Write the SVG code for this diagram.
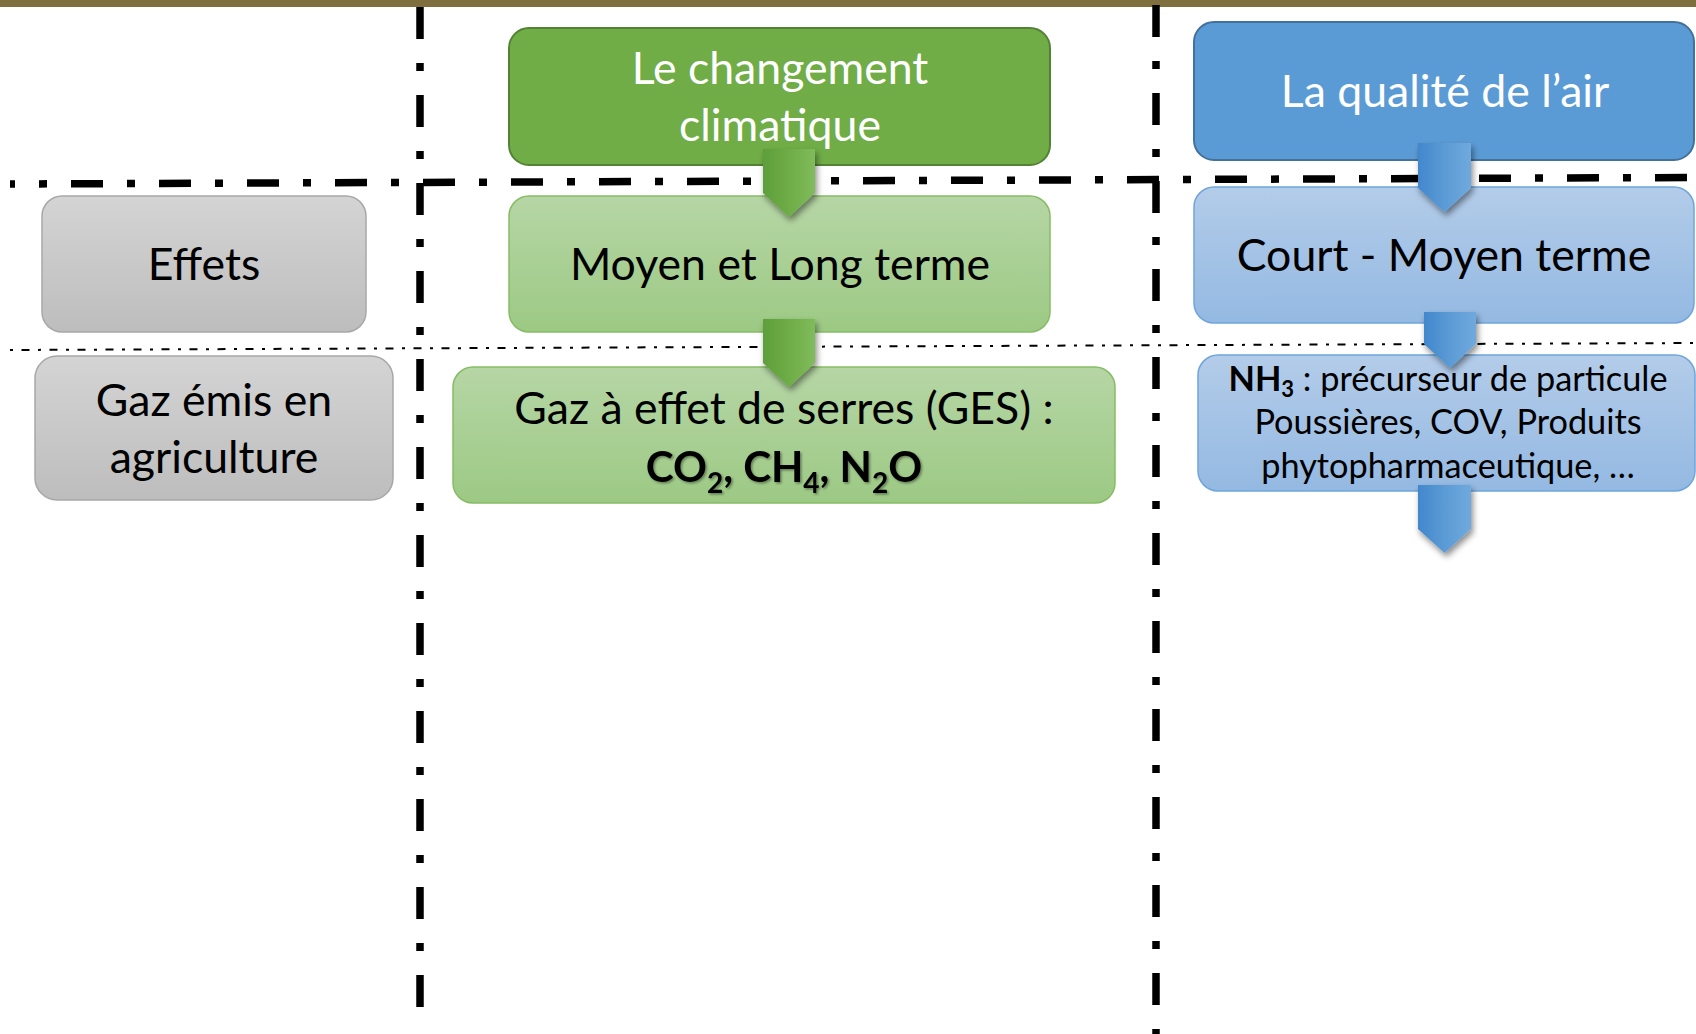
<svg xmlns="http://www.w3.org/2000/svg" width="1696" height="1034" viewBox="0 0 1696 1034">
  <style>
    text { font-family: Lato, "Open Sans", "Liberation Sans", sans-serif; text-anchor: middle; }
    .big { font-size: 44.6px; }
    .small { font-size: 34.3px; }
    .white { fill: #FFFFFF; }
    .black { fill: #000000; }
    .bold { font-weight: bold; }
    .thick { fill: none; stroke: #000; stroke-width: 7.5; stroke-dasharray: 32 24 8 24; }
    .thin { fill: none; stroke: #000; stroke-width: 2; stroke-dasharray: 3 8.5 8 8.5; }
    .dark-green { fill: #70AD47; stroke: #548235; stroke-width: 2; }
    .light-green { fill: url(#gLightGreen); stroke: #86BC64; stroke-width: 1.5; }
    .dark-blue { fill: #5B9BD5; stroke: #41719C; stroke-width: 2; }
    .light-blue { fill: url(#gLightBlue); stroke: #6FA5DA; stroke-width: 1.5; }
    .grey { fill: url(#gGrey); stroke: #A8A8A8; stroke-width: 1.5; }
    .arrow-green { fill: url(#gArrowGreen); filter: url(#shadow); }
    .arrow-blue { fill: url(#gArrowBlue); filter: url(#shadow); }
  </style>
  <defs>
    <linearGradient id="gLightGreen" x1="0" y1="0" x2="0" y2="1">
      <stop offset="0" stop-color="#B6D6A5"/>
      <stop offset="1" stop-color="#9CC984"/>
    </linearGradient>
    <linearGradient id="gLightBlue" x1="0" y1="0" x2="0" y2="1">
      <stop offset="0" stop-color="#B3CCE9"/>
      <stop offset="1" stop-color="#94B9E2"/>
    </linearGradient>
    <linearGradient id="gGrey" x1="0" y1="0" x2="0" y2="1">
      <stop offset="0" stop-color="#D4D4D4"/>
      <stop offset="1" stop-color="#BDBDBD"/>
    </linearGradient>
    <linearGradient id="gArrowGreen" x1="0" y1="0" x2="1" y2="0">
      <stop offset="0" stop-color="#5E9E3B"/>
      <stop offset="0.5" stop-color="#6EAD46"/>
      <stop offset="1" stop-color="#80BB5C"/>
    </linearGradient>
    <linearGradient id="gArrowBlue" x1="0" y1="0" x2="1" y2="0">
      <stop offset="0" stop-color="#4287CD"/>
      <stop offset="0.5" stop-color="#5B9BD5"/>
      <stop offset="1" stop-color="#70A9DD"/>
    </linearGradient>
    <filter id="shadow" x="-30%" y="-30%" width="160%" height="160%">
      <feDropShadow dx="2" dy="4" stdDeviation="3" flood-color="#000" flood-opacity="0.45"/>
    </filter>
    <filter id="textShadow" x="-10%" y="-30%" width="120%" height="160%">
      <feDropShadow dx="1.5" dy="1.5" stdDeviation="1" flood-color="#000" flood-opacity="0.4"/>
    </filter>
  </defs>

  <rect id="top-band" x="0" y="0" width="1696" height="7" fill="#7F6F3F"/>

  <g id="dividers">
    <path class="thick" d="M420 7 V1007"/>
    <path class="thick" d="M1156 5 V1034"/>
    <path class="thick" d="M10 184 L1696 177.5" stroke-dashoffset="27"/>
    <path class="thin" d="M10 350 L1696 343"/>
  </g>

  <g id="node-effets">
    <rect class="grey" x="42" y="196" width="324" height="136" rx="20"/>
    <text class="big black" x="204" y="280">Effets</text>
  </g>

  <g id="node-gaz-emis">
    <rect class="grey" x="35" y="356" width="358" height="144" rx="22"/>
    <text class="big black" x="214" y="416">Gaz émis en</text>
    <text class="big black" x="214" y="473">agriculture</text>
  </g>

  <g id="node-changement-climatique">
    <rect class="dark-green" x="509" y="28" width="541" height="137" rx="20"/>
    <text class="big white" x="780" y="84">Le changement</text>
    <text class="big white" x="780" y="141">climatique</text>
  </g>

  <g id="node-moyen-long-terme">
    <rect class="light-green" x="509" y="196" width="541" height="136" rx="20"/>
    <text class="big black" x="780" y="280">Moyen et Long terme</text>
  </g>

  <g id="node-ges">
    <rect class="light-green" x="453" y="367" width="662" height="136" rx="20"/>
    <text class="big black" x="784" y="424">Gaz à effet de serres (GES) :</text>
    <text class="black bold" x="784" y="482" font-size="42" filter="url(#textShadow)">CO<tspan dy="11" font-size="28">2</tspan><tspan dy="-11">, CH</tspan><tspan dy="11" font-size="28">4</tspan><tspan dy="-11">, N</tspan><tspan dy="11" font-size="28">2</tspan><tspan dy="-11">O</tspan></text>
  </g>

  <g id="node-qualite-air">
    <rect class="dark-blue" x="1194" y="22" width="500" height="138" rx="20"/>
    <text class="big white" x="1445" y="107">La qualité de l’air</text>
  </g>

  <g id="node-court-moyen-terme">
    <rect class="light-blue" x="1194" y="187" width="500" height="136" rx="20"/>
    <text class="big black" x="1444" y="271">Court - Moyen terme</text>
  </g>

  <g id="node-nh3">
    <rect class="light-blue" x="1198" y="355" width="497" height="136" rx="20"/>
    <text class="small black" x="1448" y="391"><tspan class="bold">NH</tspan><tspan class="bold" dy="6" font-size="22">3</tspan><tspan dy="-6"> : précurseur de particule</tspan></text>
    <text class="small black" x="1448" y="434">Poussières, COV, Produits</text>
    <text class="small black" x="1448" y="478">phytopharmaceutique, …</text>
  </g>

  <g id="connectors">
    <path class="arrow-green" d="M763 149 H815 V193 L789 217 L763 193 Z"/>
    <path class="arrow-green" d="M763 319 H815 V363 L789 387 L763 363 Z"/>
    <path class="arrow-blue" d="M1418 143 H1471 V188 L1444.5 212 L1418 188 Z"/>
    <path class="arrow-blue" d="M1424 312 H1476 V344 L1450 368 L1424 344 Z"/>
    <path class="arrow-blue" d="M1418 485 H1471 V529 L1444.5 553 L1418 529 Z"/>
  </g>
</svg>
